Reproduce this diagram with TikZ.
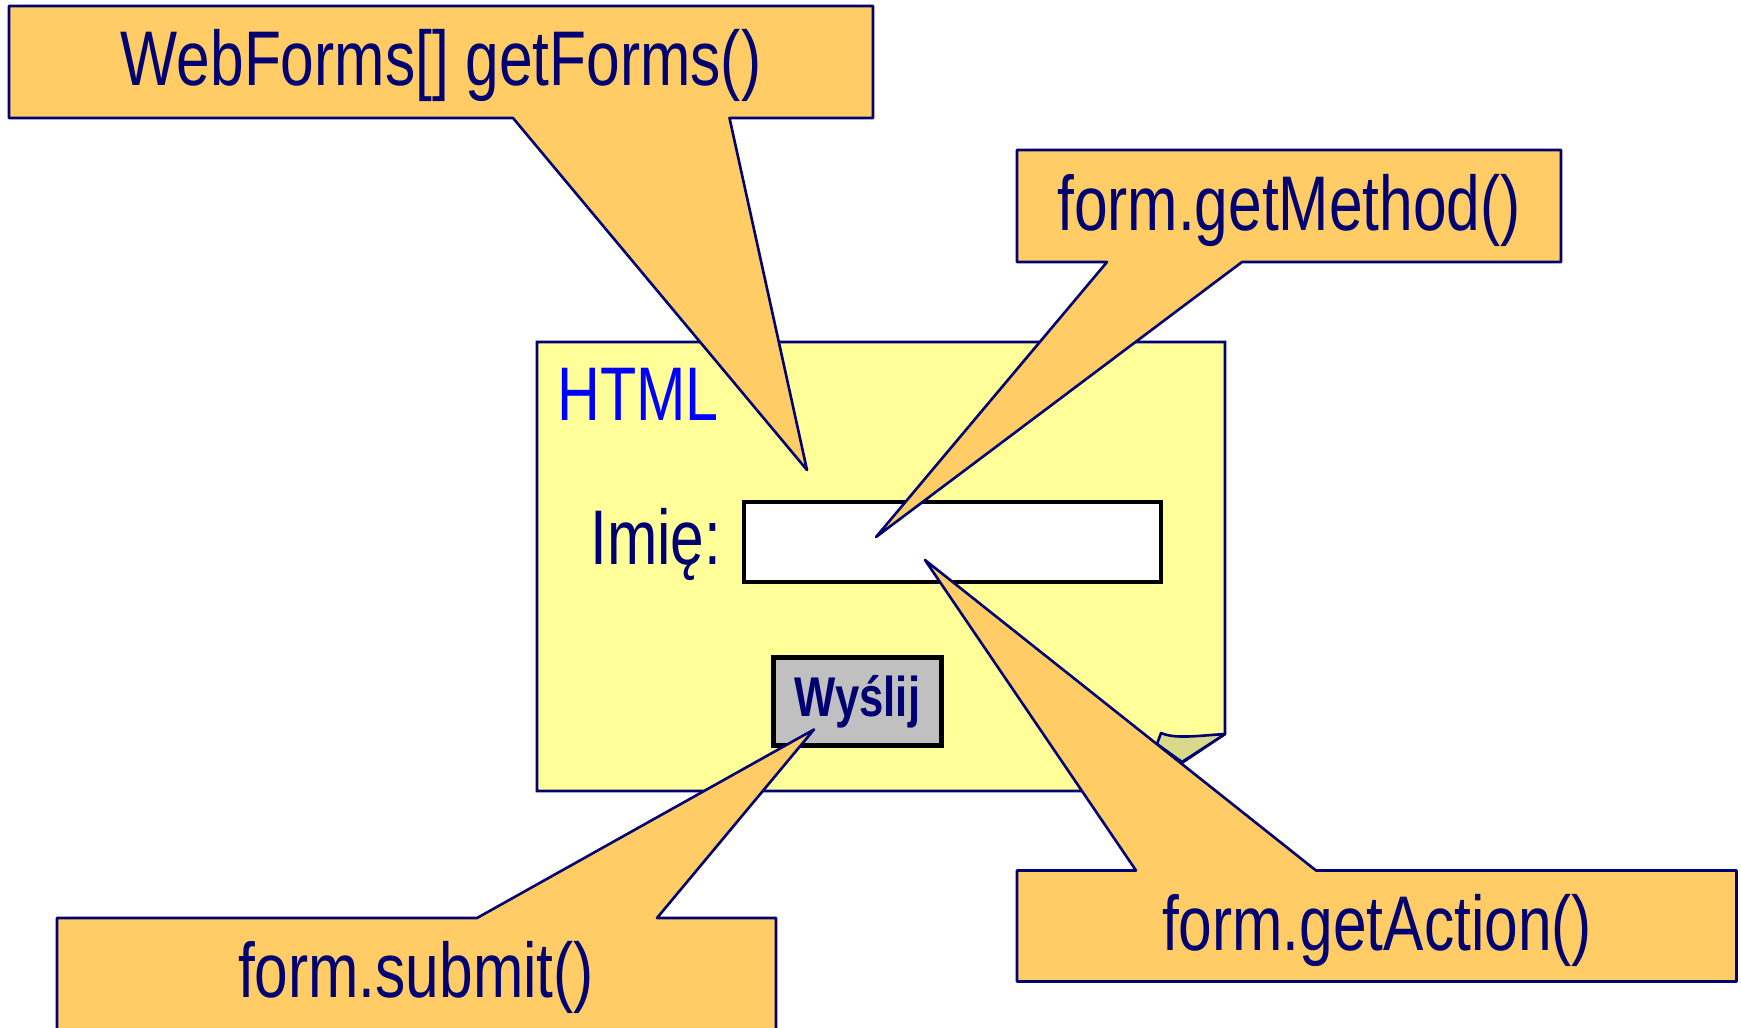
\documentclass[tikz,border=0pt]{standalone}
\usepackage{fontspec}
\setmainfont{Liberation Sans}[FakeStretch=0.78]
\usepackage{xcolor}
\definecolor{calloutfill}{HTML}{FFCC66}
\definecolor{pagefill}{HTML}{FFFF99}
\definecolor{curlfill}{HTML}{D9D98C}
\definecolor{navy}{HTML}{000072}
\definecolor{buttongray}{HTML}{C0C0C0}

\begin{document}
\begin{tikzpicture}[
    x=0.5pt, y=-0.5pt,
    page/.style={draw=navy, fill=pagefill, line width=1.3pt},
    callout/.style={draw=navy, fill=calloutfill, line width=1.3pt, line join=round},
    big/.style={font=\fontsize{38.75}{46}\selectfont, text=navy, inner sep=0pt},
    field/.style={rectangle, draw=black, fill=white, line width=1.6pt, minimum width=208.5pt, minimum height=40pt},
    button/.style={rectangle, draw=black, fill=buttongray, line width=2.5pt, minimum width=84pt, minimum height=44pt, inner sep=0pt, font=\fontsize{28}{32}\selectfont\bfseries, text=navy}
]
\useasboundingbox (0,0) rectangle (1741,1028);

% HTML page with its curled corner
\draw[page] (537,342) -- (1225,342) -- (1225,734) -- (1140,791) -- (537,791) -- cycle;
\draw[page, fill=curlfill, line join=round] (1157,744) -- (1161,733) .. controls (1175,739) and (1195,736) .. (1225,734) -- (1182,762) -- cycle;
\node[font=\fontsize{38}{42}\selectfont, text=blue, inner sep=0pt, anchor=base west] (html) at (557,420) {HTML};

% Form
\node[big, anchor=base west] (imie) at (590,564) {Imię:};
\node[field] (name) at (952.5,542) {};
\node[button] (send) at (857.5,701.5) {Wyślij};

% Callouts
\coordinate (formsTip) at (807,470);
\draw[callout] (9,6) -- (873,6) -- (873,118) -- (729.5,118) -- (formsTip) -- (513,118) -- (9,118) -- cycle;
\node[big, anchor=base] (forms) at (441,85.5) {WebForms[] getForms()};

\coordinate (methodTip) at (876,537);
\draw[callout] (1017,150) -- (1561,150) -- (1561,262) -- (1242,262) -- (methodTip) -- (1107,262) -- (1017,262) -- cycle;
\node[big, anchor=base] (method) at (1289,230) {form.getMethod()};

\coordinate (actionTip) at (925,560);
\draw[callout] (1017,870.5) -- (1136,870.5) -- (actionTip) -- (1316,870.5) -- (1736.5,870.5) -- (1736.5,981.5) -- (1017,981.5) -- cycle;
\node[big, anchor=base] (action) at (1377,950.5) {form.getAction()};

\coordinate (submitTip) at (814,729.5);
\draw[callout] (57,918) -- (477,918) -- (submitTip) -- (657,918) -- (776,918) -- (776,1045) -- (57,1045) -- cycle;
\node[big, anchor=base] (submit) at (416,997) {form.submit()};
\end{tikzpicture}
\end{document}
